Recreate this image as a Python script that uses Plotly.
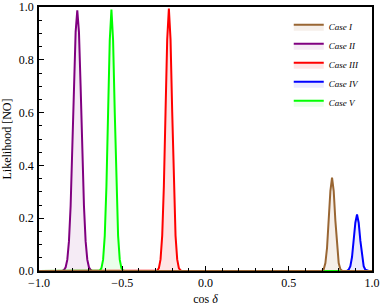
import plotly.graph_objects as go

# ---- data ----
case_names = ["Case I", "Case II", "Case III", "Case IV", "Case V"]

x_case1 = [-1.0, 0.69, 0.70, 0.71, 0.72, 0.73, 0.74, 0.75, 0.76, 0.77, 0.78, 0.79, 0.80, 0.81, 0.82, 0.83, 1.0]
y_case1 = [0.0, 0.0, 0.001, 0.007, 0.030, 0.088, 0.191, 0.303, 0.354, 0.303, 0.191, 0.088, 0.030, 0.007, 0.001, 0.0, 0.0]

x_case2 = [-1.0, -0.86, -0.85, -0.84, -0.83, -0.82, -0.81, -0.80, -0.79, -0.78, -0.77, -0.76, -0.75, -0.74, -0.73, -0.72, -0.71, -0.70, -0.69, -0.68, 1.0]
y_case2 = [0.0, 0.0, 0.004, 0.014, 0.043, 0.113, 0.246, 0.452, 0.697, 0.905, 0.987, 0.905, 0.697, 0.452, 0.246, 0.113, 0.043, 0.014, 0.004, 0.0, 0.0]

x_case3 = [-1.0, -0.30, -0.29, -0.28, -0.27, -0.26, -0.25, -0.24, -0.23, -0.22, -0.21, -0.20, -0.19, -0.18, -0.17, -0.16, -0.15, -0.14, 1.0]
y_case3 = [0.0, 0.0, 0.002, 0.011, 0.044, 0.134, 0.323, 0.603, 0.877, 0.994, 0.877, 0.603, 0.323, 0.134, 0.044, 0.011, 0.002, 0.0, 0.0]

x_case4 = [-1.0, 0.84, 0.85, 0.86, 0.87, 0.88, 0.89, 0.90, 0.91, 0.92, 0.93, 0.94, 0.95, 0.96, 0.97, 0.98, 1.0]
y_case4 = [0.0, 0.0, 0.001, 0.005, 0.018, 0.053, 0.115, 0.183, 0.214, 0.183, 0.115, 0.053, 0.018, 0.005, 0.001, 0.0, 0.0]

x_case5 = [-1.0, -0.645, -0.635, -0.625, -0.615, -0.605, -0.595, -0.585, -0.575, -0.565, -0.555, -0.545, -0.535, -0.525, -0.515, -0.505, -0.495, -0.485, 1.0]
y_case5 = [0.0, 0.0, 0.002, 0.011, 0.043, 0.134, 0.321, 0.600, 0.874, 0.990, 0.874, 0.600, 0.321, 0.134, 0.043, 0.011, 0.002, 0.0, 0.0]

x_ticks = [-1.0, -0.5, 0.0, 0.5, 1.0]
x_tick_labels = ["\u22121.0", "\u22120.5", "0.0", "0.5", "1.0"]
x_minor_ticks = [-0.9, -0.8, -0.7, -0.6, -0.4, -0.3, -0.2, -0.1, 0.1, 0.2, 0.3, 0.4, 0.6, 0.7, 0.8, 0.9]
y_ticks = [0.0, 0.2, 0.4, 0.6, 0.8, 1.0]
y_tick_labels = ["0.0", "0.2", "0.4", "0.6", "0.8", "1.0"]
y_minor_ticks = [0.05, 0.1, 0.15, 0.25, 0.3, 0.35, 0.45, 0.5, 0.55, 0.65, 0.7, 0.75, 0.85, 0.9, 0.95]

# ---- styles ----
line_colors = ["#996633", "#800080", "#ff0000", "#0000ff", "#00ff00"]
fill_colors = ["rgba(153,102,51,0.10)", "rgba(128,0,128,0.08)", "rgba(255,0,0,0.10)",
               "rgba(0,0,255,0.08)", "rgba(0,255,0,0.08)"]
xs = [x_case1, x_case2, x_case3, x_case4, x_case5]
ys = [y_case1, y_case2, y_case3, y_case4, y_case5]

fig = go.Figure()
draw_order = [1, 2, 3, 4, 0]
for i in draw_order:
    fig.add_trace(go.Scatter(
        x=xs[i], y=ys[i], mode="lines", name=case_names[i],
        line=dict(color=line_colors[i], width=2),
        fill="tozeroy", fillcolor=fill_colors[i],
        legendrank=i + 1,
    ))

serif = "Times New Roman, Liberation Serif, serif"
axis_common = dict(
    showgrid=False, zeroline=False, showline=True, linecolor="black", linewidth=1.6,
    mirror=True, ticks="inside", ticklen=5, tickwidth=1, tickcolor="black",
    tickfont=dict(family=serif, size=12, color="black"),
    tickmode="array", automargin=False, ticklabeloverflow="allow",
    ticklabelposition="outside",
)

fig.update_xaxes(
    range=[-1.0, 1.0], tickvals=x_ticks, ticktext=x_tick_labels,
    minor=dict(tickmode="array", tickvals=x_minor_ticks, ticks="inside", ticklen=3,
               tickcolor="black", tickwidth=1),
    title=dict(text="cos <i>δ</i>", font=dict(family=serif, size=12, color="black")),
    **axis_common,
)
fig.update_yaxes(
    range=[0.0, 1.0], tickvals=y_ticks, ticktext=y_tick_labels, ticklabelstandoff=1,
    minor=dict(tickmode="array", tickvals=y_minor_ticks, ticks="inside", ticklen=3,
               tickcolor="black", tickwidth=1),
    title=dict(text="Likelihood [NO]", font=dict(family=serif, size=12, color="black")),
    **axis_common,
)

fig.update_layout(
    width=382, height=306,
    margin=dict(l=39, r=10, t=7, b=35, autoexpand=False),
    paper_bgcolor="white", plot_bgcolor="white",
    showlegend=True,
    legend=dict(
        x=0.75, y=0.98, xanchor="left", yanchor="top",
        font=dict(family=serif, size=9, color="black", style="italic"),
        bgcolor="rgba(0,0,0,0)", tracegroupgap=0, itemwidth=30,
    ),
)

fig.write_html("out.html", config={"displayModeBar": False},
               post_script="document.body.style.margin='0';document.body.style.overflow='hidden';")
